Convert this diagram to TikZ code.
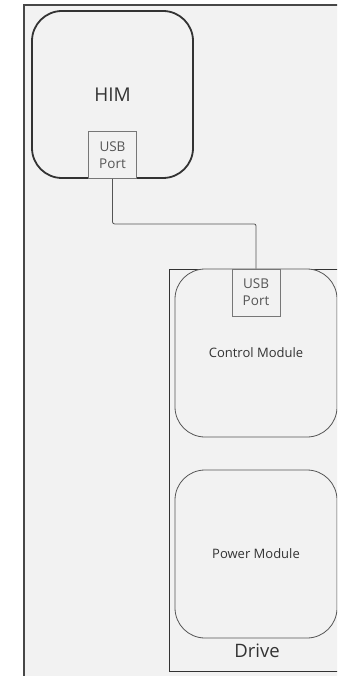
\documentclass[tikz,border=0pt]{standalone}
\usepackage{fontspec}
\setmainfont{Open Sans}
\usetikzlibrary{positioning}
\definecolor{panel}{HTML}{F2F2F2}
\definecolor{ink}{HTML}{333333}
\definecolor{soft}{HTML}{555555}

\begin{document}
\begin{tikzpicture}[
  x=1pt, y=-1pt,
  module/.style={draw=soft, line width=0.8pt, rounded corners=30pt, fill=panel, inner sep=0pt,
    minimum width=162pt, minimum height=168pt, font=\fontsize{13}{16}\selectfont, text=ink},
  port/.style={draw=soft!80, line width=0.8pt, fill=panel, inner sep=0pt, minimum width=48pt,
    minimum height=47pt, align=center, font=\fontsize{13.5}{17}\selectfont, text=soft},
  wire/.style={draw=soft, line width=0.8pt, rounded corners=2pt}
]
  \useasboundingbox (0,0) rectangle (337,676);
  \clip (0,0) rectangle (337,676);
  \fill[white] (0,0) rectangle (337,676);

  % Sheet
  \draw[ink!90, line width=1.5pt, fill=panel] (24,5) rectangle (360,700);

  % Host side
  \node[module, draw=ink, line width=1.8pt, minimum width=161pt, minimum height=167pt,
        font=\fontsize{19}{23}\selectfont] (him) at (112.5,94.5) {HIM};
  \node[port, anchor=south] (himusb) at (him.south) {USB\\Port};

  % Drive
  \node[draw=ink, line width=1.2pt, inner sep=0pt, minimum width=190pt, minimum height=402pt,
        anchor=north west] (drive) at (169,269) {};
  \node[module] (ctrl) at (256,353) {Control Module};
  \node[port, anchor=north] (ctrlusb) at (ctrl.north) {USB\\Port};
  \node[module] (power) at (256,554) {Power Module};
  \node[font=\fontsize{18.5}{22}\selectfont, text=ink] (drivelbl) at (257,651) {Drive};

  % Cable
  \draw[wire] (himusb.south) -- ++(0,45) -| (ctrlusb.north);
\end{tikzpicture}
\end{document}
